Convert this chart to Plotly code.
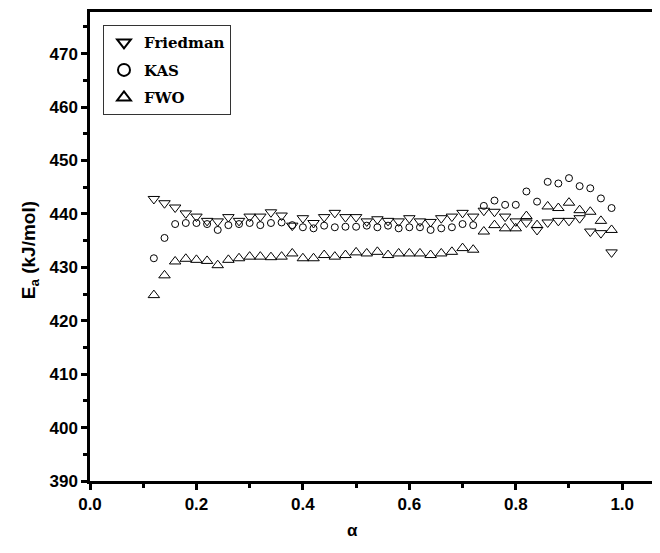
import plotly.graph_objects as go

alpha = [0.12, 0.14, 0.16, 0.18, 0.20, 0.22, 0.24, 0.26, 0.28, 0.30, 0.32,
         0.34, 0.36, 0.38, 0.40, 0.42, 0.44, 0.46, 0.48, 0.50, 0.52, 0.54,
         0.56, 0.58, 0.60, 0.62, 0.64, 0.66, 0.68, 0.70, 0.72, 0.74, 0.76,
         0.78, 0.80, 0.82, 0.84, 0.86, 0.88, 0.90, 0.92, 0.94, 0.96, 0.98]

friedman = [442.8, 442.0, 441.2, 440.1, 439.5, 438.7, 438.6, 439.4, 438.7, 439.5,
            439.5, 440.3, 439.7, 437.8, 439.2, 438.3, 439.4, 440.2, 439.4, 439.4,
            438.6, 439.0, 438.7, 438.6, 439.2, 438.6, 438.5, 439.2, 439.5, 440.2,
            439.5, 440.6, 440.4, 439.5, 438.6, 438.4, 437.0, 438.4, 438.7, 438.7,
            439.2, 436.7, 436.4, 432.8]

kas = [431.7, 435.5, 438.1, 438.3, 438.3, 438.1, 437.0, 437.9, 438.1, 438.3,
       437.9, 438.3, 438.4, 437.9, 437.5, 437.3, 437.8, 437.5, 437.6, 437.6,
       437.8, 437.5, 437.8, 437.3, 437.5, 437.5, 437.0, 437.3, 437.5, 438.1,
       437.9, 441.5, 442.5, 441.7, 441.7, 444.2, 442.3, 446.0, 445.7, 446.7,
       445.2, 444.8, 442.9, 441.1]

fwo = [424.8, 428.5, 431.1, 431.6, 431.4, 431.2, 430.4, 431.4, 431.7, 432.0,
       432.0, 431.9, 432.0, 432.6, 431.7, 431.7, 432.3, 432.0, 432.3, 432.8,
       432.6, 432.9, 432.3, 432.6, 432.6, 432.6, 432.3, 432.6, 432.9, 433.6,
       433.3, 436.7, 437.9, 437.3, 437.3, 439.6, 437.9, 441.4, 441.1, 442.1,
       440.7, 440.4, 438.7, 437.0]

series = [
    ("Friedman", friedman, "triangle-down-open", 10),
    ("KAS", kas, "circle-open", 7),
    ("FWO", fwo, "triangle-up-open", 10),
]

fig = go.Figure()
for name, vals, sym, sz in series:
    fig.add_trace(go.Scatter(
        x=alpha, y=vals, mode="markers", name=name, legendgroup=name,
        marker=dict(symbol=sym, size=sz, color="black",
                    line=dict(color="black", width=1)),
    ))

sans = "Liberation Sans, Arial, sans-serif"
tick_font = dict(family=sans, size=17, color="black", weight="bold")

fig.update_layout(
    width=652, height=545,
    margin=dict(l=82, r=0, t=4, b=72),
    paper_bgcolor="white", plot_bgcolor="white",
    showlegend=True,
    legend=dict(
        x=0.0228, y=0.972, xanchor="left", yanchor="top",
        bordercolor="#333333", borderwidth=1, bgcolor="white",
        font=dict(family="DejaVu Serif, serif", size=15, color="black",
                  weight="bold"),
        itemsizing="constant", tracegroupgap=5,
    ),
    xaxis=dict(
        range=[0, 1.071], showgrid=False, zeroline=False,
        showline=True, linecolor="black", linewidth=2.5, mirror=True,
        ticks="outside", ticklen=6, tickwidth=2.5, tickcolor="black",
        tickvals=[0.0, 0.2, 0.4, 0.6, 0.8, 1.0],
        ticktext=["0.0", "0.2", "0.4", "0.6", "0.8", "1.0"],
        tickfont=tick_font,
        minor=dict(tickvals=[0.1, 0.3, 0.5, 0.7, 0.9], ticks="outside",
                   ticklen=4, tickwidth=2.5, tickcolor="black"),
    ),
    yaxis=dict(
        range=[390, 477.8], showgrid=False, zeroline=False,
        showline=True, linecolor="black", linewidth=2.5,
        ticks="outside", ticklen=6, tickwidth=2.5, tickcolor="black",
        tickvals=[390, 400, 410, 420, 430, 440, 450, 460, 470],
        tickfont=tick_font,
        minor=dict(tickvals=[395, 405, 415, 425, 435, 445, 455, 465, 475],
                   ticks="outside", ticklen=4, tickwidth=2.5,
                   tickcolor="black"),
    ),
    annotations=[
        dict(text="E<sub>a</sub> (kJ/mol)", xref="paper", yref="paper",
             x=-0.105, y=0.4925, textangle=-90, showarrow=False,
             xanchor="center", yanchor="middle",
             font=dict(family=sans, size=19, color="black", weight="bold")),
        dict(text="α", xref="paper", yref="paper",
             x=0.46, y=-0.1045, showarrow=False,
             xanchor="center", yanchor="middle",
             font=dict(family=sans, size=17, color="black", weight="bold")),
    ],
)

fig.write_html("out.html")
